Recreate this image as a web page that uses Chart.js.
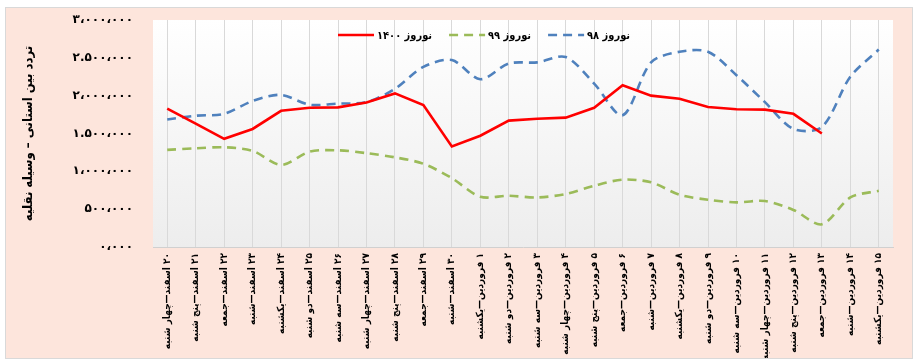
<!DOCTYPE html>
<html><head><meta charset="utf-8">
<script src="https://cdn.jsdelivr.net/npm/chart.js@4.4.1/dist/chart.umd.min.js"></script>
<style>
html,body{margin:0;padding:0;background:#fff;}
#box{position:absolute;left:5px;top:7px;width:906px;height:350px;background:#FDE5DC;border:1px solid #d9d9d9;}
canvas{display:block}
</style></head>
<body>
<div id="box"><canvas id="c" dir="rtl" width="906" height="350"></canvas></div>
<script>
const categories = [
  '۲۰ اسفند—چهار شنبه','۲۱ اسفند—پنج شنبه','۲۲ اسفند—جمعه','۲۳ اسفند—شنبه','۲۴ اسفند—یکشنبه',
  '۲۵ اسفند—دو شنبه','۲۶ اسفند—سه شنبه','۲۷ اسفند—چهار شنبه','۲۸ اسفند—پنج شنبه','۲۹ اسفند—جمعه',
  '۳۰ اسفند—شنبه','۱ فروردین—یکشنبه','۲ فروردین—دو شنبه','۳ فروردین—سه شنبه','۴ فروردین—چهار شنبه',
  '۵ فروردین—پنج شنبه','۶ فروردین—جمعه','۷ فروردین—شنبه','۸ فروردین—یکشنبه','۹ فروردین—دو شنبه',
  '۱۰ فروردین—سه شنبه','۱۱ فروردین—چهار شنبه','۱۲ فروردین—پنج شنبه','۱۳ فروردین—جمعه','۱۴ فروردین—شنبه',
  '۱۵ فروردین—یکشنبه'
];
const nowruz1400 = [1830000,1630000,1430000,1560000,1800000,1840000,1845000,1910000,2030000,1876000,
  1330000,1470000,1670000,1695000,1710000,1840000,2137000,2000000,1960000,1850000,
  1820000,1815000,1760000,1500000,null,null];
const nowruz99 = [1283000,1305000,1318000,1270000,1085000,1260000,1278000,1240000,1185000,1100000,
  910000,664000,677000,655000,700000,810000,890000,855000,690000,624000,
  590000,607000,490000,300000,655000,743000];
const nowruz98 = [1686000,1735000,1760000,1930000,2010000,1880000,1895000,1915000,2090000,2380000,
  2470000,2217000,2425000,2440000,2510000,2160000,1740000,2440000,2580000,2580000,
  2270000,1915000,1560000,1585000,2250000,2610000];
const seriesLabels = ['نوروز ۱۴۰۰','نوروز ۹۹','نوروز ۹۸'];
const yTickValues = [0,500000,1000000,1500000,2000000,2500000,3000000];
const yTickLabels = ['۰،۰۰۰','۵۰۰،۰۰۰','۱،۰۰۰،۰۰۰','۱.۵۰۰،۰۰۰','۲،۰۰۰،۰۰۰','۲.۵۰۰،۰۰۰','۳،۰۰۰،۰۰۰'];
const yTitle = 'تردد بین استانی – وسیله نقلیه';

const FONT = '"DejaVu Sans", "Noto Sans", sans-serif';
const CFONT = '"DejaVu Sans Condensed", "DejaVu Sans", sans-serif';

const plotBg = {
  id:'plotBg',
  beforeDraw(chart){
    const {ctx, chartArea:a} = chart;
    const g = ctx.createLinearGradient(0,a.top,0,a.bottom);
    g.addColorStop(0,'#ffffff');
    g.addColorStop(1,'#ededed');
    ctx.save();
    ctx.fillStyle = g;
    ctx.fillRect(a.left, a.top, a.right-a.left, a.bottom-a.top);
    ctx.restore();
  }
};

const customLegend = {
  id:'customLegend',
  afterDraw(chart){
    const ctx = chart.ctx;
    let x = 332, y = 27;
    ctx.save();
    ctx.font = 'bold 11px ' + CFONT;
    ctx.textBaseline = 'middle';
    ctx.textAlign = 'left';
    chart.data.datasets.forEach(ds => {
      ctx.strokeStyle = ds.borderColor;
      ctx.lineWidth = 2.5;
      ctx.setLineDash(ds.borderDash || []);
      ctx.beginPath();
      ctx.moveTo(x, y);
      ctx.lineTo(x+36, y);
      ctx.stroke();
      ctx.setLineDash([]);
      ctx.fillStyle = '#000';
      const w = ctx.measureText(ds.label).width;
      ctx.fillText(ds.label, x+39, y+1);
      x += 39 + w + 17;
    });
    ctx.restore();
  }
};

new Chart(document.getElementById('c'), {
  type:'line',
  data:{
    labels: categories,
    datasets:[
      {label:seriesLabels[0], data:nowruz1400, borderColor:'#FF0000', backgroundColor:'#FF0000', borderWidth:2.6, pointRadius:0, tension:0},
      {label:seriesLabels[1], data:nowruz99, borderColor:'#9BBB59', backgroundColor:'#9BBB59', borderWidth:2.6, borderDash:[9,6], pointRadius:0, tension:0.3},
      {label:seriesLabels[2], data:nowruz98, borderColor:'#4F81BD', backgroundColor:'#4F81BD', borderWidth:2.6, borderDash:[9,6], pointRadius:0, tension:0.3}
    ]
  },
  options:{
    responsive:false,
    animation:false,
    devicePixelRatio:1,
    layout:{padding:{left:0,right:19,top:12,bottom:0}},
    plugins:{legend:{display:false}, tooltip:{enabled:false}},
    scales:{
      x:{
        offset:true,
        grid:{display:true, color:'#d9d9d9', lineWidth:1, drawTicks:false, offset:false},
        border:{display:true, color:'#d0d0d0'},
        ticks:{autoSkip:false, minRotation:90, maxRotation:90, padding:6, color:'#000', font:{family:CFONT, size:10, weight:'bold'}},
        afterFit(s){ s.height = 111; }
      },
      y:{
        min:0, max:3000000,
        afterBuildTicks(s){ s.ticks = yTickValues.map(v=>({value:v})); },
        grid:{display:true, color:'rgba(0,0,0,0)', drawOnChartArea:false, drawTicks:true, tickLength:16},
        border:{display:false},
        ticks:{padding:4, color:'#000', font:{family:FONT, size:12, weight:'bold'},
          callback:(v)=>{ const i = yTickValues.indexOf(v); return i>=0 ? yTickLabels[i] : ''; }},
        title:{display:true, text:yTitle, color:'#000', font:{family:CFONT, size:13, weight:'bold'}, padding:{top:15,bottom:0}},
        afterFit(s){ s.width = 147; }
      }
    }
  },
  plugins:[plotBg, customLegend]
});
</script>
</body></html>
